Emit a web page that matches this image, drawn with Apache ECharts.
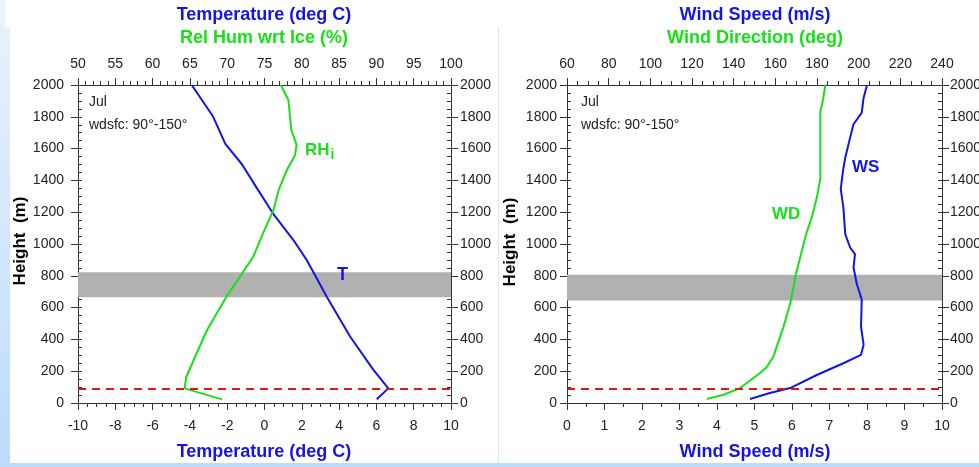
<!DOCTYPE html>
<html>
<head>
<meta charset="utf-8">
<script src="https://cdn.jsdelivr.net/npm/echarts@6/dist/echarts.min.js"></script>
<style>html,body{margin:0;padding:0;background:#fff;}#c{width:979px;height:467px;}</style>
</head>
<body>
<div id="c"></div>
<script>
// ---- data (heights in m) ----
const tempHeights = [2000, 1800, 1630, 1500, 1350, 1190, 1025, 900, 785, 670, 420, 210, 92, 23];
const tempValues  = [-3.9, -2.75, -2.1, -1.2, -0.4, 0.47, 1.55, 2.26, 2.8, 3.33, 4.58, 5.83, 6.64, 6.02];
const rhHeights = [2000, 1906, 1717, 1623, 1560, 1465, 1340, 1214, 1067, 920, 794, 668, 459, 291, 162, 92, 23];
const rhValues  = [77.2, 78.2, 78.6, 79.3, 79.1, 78.0, 76.9, 76.2, 74.8, 73.5, 71.7, 69.9, 67.3, 65.7, 64.5, 64.3, 69.3];
const wsHeights = [2000, 1920, 1826, 1753, 1669, 1543, 1460, 1345, 1229, 1062, 978, 936, 852, 747, 651, 481, 366, 303, 250, 176, 94, 63, 25];
const wsValues  = [8.0, 7.91, 7.86, 7.64, 7.55, 7.42, 7.36, 7.30, 7.37, 7.42, 7.55, 7.68, 7.64, 7.73, 7.86, 7.84, 7.91, 7.84, 7.37, 6.66, 5.95, 5.41, 4.88];
const wdHeights = [2000, 1906, 1832, 1486, 1413, 1298, 1172, 1067, 920, 796, 734, 629, 482, 293, 228, 189, 94, 52, 25];
const wdValues  = [184.0, 182.9, 181.6, 181.6, 181.6, 180.0, 177.6, 174.9, 172.0, 169.6, 168.8, 167.2, 164.0, 159.1, 156.0, 152.7, 143.1, 135.1, 127.1];
const leftBand = [665, 822];
const rightBand = [645, 807];
const mixHeight = 90;
const heightRange = [0, 2000, 200];
const tempRange = [-10, 10, 2];
const rhRange = [50, 100, 5];
const wsRange = [0, 10, 1];
const wdRange = [60, 240, 20];

const FONT = 'Liberation Sans, Arial, sans-serif';
const BLUE = '#1414e6';
const GREEN = '#18e018';
const AX = '#333';
const LBL = '#222';

function pairs(vals, hts) { return vals.map((v, i) => [v, hts[i]]); }
const plain = v => String(v);

function xAx(grid, pos, r, minorSplit, margin) {
  return {
    gridIndex: grid, type: 'value', position: pos, min: r[0], max: r[1], interval: r[2],
    axisLine: { show: true, onZero: false, lineStyle: { color: AX, width: 1 } },
    axisTick: { show: true, inside: false, length: 7, lineStyle: { color: AX } },
    minorTick: { show: true, splitNumber: minorSplit, length: 4, lineStyle: { color: AX } },
    axisLabel: { show: true, margin: margin, color: LBL, fontSize: 14, fontFamily: FONT, formatter: plain, hideOverlap: false },
    splitLine: { show: false }, minorSplitLine: { show: false }
  };
}
function yAx(grid, pos, margin) {
  return {
    gridIndex: grid, type: 'value', position: pos, min: heightRange[0], max: heightRange[1], interval: heightRange[2],
    axisLine: { show: true, onZero: false, lineStyle: { color: AX, width: 1 } },
    axisTick: { show: true, inside: false, length: 7, lineStyle: { color: AX } },
    minorTick: { show: false },
    axisLabel: { show: true, margin: margin, color: LBL, fontSize: 14, fontFamily: FONT, formatter: plain, hideOverlap: false },
    splitLine: { show: false }
  };
}
function yMinor(grid, pos) {
  return {
    gridIndex: grid, type: 'value', position: pos, min: heightRange[0], max: heightRange[1], interval: heightRange[2],
    axisLine: { show: false, onZero: false },
    axisTick: { show: true, inside: true, length: 4, lineStyle: { color: AX } },
    minorTick: { show: true, splitNumber: 4, length: 4, lineStyle: { color: AX } },
    axisLabel: { show: false },
    splitLine: { show: false }
  };
}

const lineBase = { type: 'line', showSymbol: false, symbol: 'none', smooth: false, z: 3, silent: true };

function bandSeries(xi, yi, band) {
  return {
    type: 'line', xAxisIndex: xi, yAxisIndex: yi, data: [], silent: true, z: 1,
    markArea: { silent: true, itemStyle: { color: '#b0b0b0', opacity: 1 }, data: [[{ yAxis: band[0] }, { yAxis: band[1] }]] },
    markLine: { silent: true, symbol: ['none', 'none'], label: { show: false }, z: 6,
      lineStyle: { color: '#ee1111', width: 2, type: [8, 6] }, data: [{ yAxis: mixHeight }] }
  };
}

function txt(x, y, text, color, font, align, rot) {
  return { type: 'text', x: x, y: y, rotation: rot || 0, z: 100, silent: true,
    style: { text: text, fill: color, font: font, align: align || 'center', verticalAlign: 'middle' } };
}

const chart = echarts.init(document.getElementById('c'), null, { renderer: 'canvas' });
const option = {
  animation: false,
  backgroundColor: '#ffffff',
  grid: [
    { left: 78, top: 85, width: 373, height: 318, containLabel: false, outerBoundsMode: 'none' },
    { left: 567, top: 85, width: 375, height: 318, containLabel: false, outerBoundsMode: 'none' }
  ],
  xAxis: [
    xAx(0, 'bottom', tempRange, 4, 16),
    xAx(0, 'top', rhRange, 5, 14),
    xAx(1, 'bottom', wsRange, 2, 16),
    xAx(1, 'top', wdRange, 4, 14)
  ],
  yAxis: [
    yAx(0, 'left', 14), yMinor(0, 'left'), yAx(0, 'right', 9), yMinor(0, 'right'),
    yAx(1, 'left', 10), yMinor(1, 'left'), yAx(1, 'right', 8), yMinor(1, 'right')
  ],
  series: [
    bandSeries(0, 0, leftBand),
    bandSeries(2, 4, rightBand),
    Object.assign({}, lineBase, { name: 'T', xAxisIndex: 0, yAxisIndex: 0, data: pairs(tempValues, tempHeights), lineStyle: { color: BLUE, width: 2 } }),
    Object.assign({}, lineBase, { name: 'RHi', xAxisIndex: 1, yAxisIndex: 0, data: pairs(rhValues, rhHeights), lineStyle: { color: GREEN, width: 2 } }),
    Object.assign({}, lineBase, { name: 'WS', xAxisIndex: 2, yAxisIndex: 4, data: pairs(wsValues, wsHeights), lineStyle: { color: BLUE, width: 2 } }),
    Object.assign({}, lineBase, { name: 'WD', xAxisIndex: 3, yAxisIndex: 4, data: pairs(wdValues, wdHeights), lineStyle: { color: GREEN, width: 2 } })
  ],
  graphic: [
    { type: 'rect', silent: true, z: -10, shape: { x: 0, y: 0, width: 5, height: 27 }, style: { fill: '#eaf2fd' } },
    { type: 'rect', silent: true, z: -10, shape: { x: 0, y: 27, width: 10, height: 440 },
      style: { fill: new echarts.graphic.LinearGradient(0, 0, 0, 1, [{ offset: 0, color: '#e8f1fd' }, { offset: 1, color: '#bcdcfa' }]) } },
    { type: 'rect', silent: true, z: -10, shape: { x: 0, y: 463, width: 979, height: 4 }, style: { fill: '#bcdcfa' } },
    { type: 'rect', silent: true, z: -10, shape: { x: 498, y: 27, width: 1, height: 436 }, style: { fill: '#d4e6fb' } },

    txt(264, 15, 'Temperature (deg C)', BLUE, 'bold 18px ' + FONT),
    txt(264, 38, 'Rel Hum wrt Ice (%)', GREEN, 'bold 18px ' + FONT),
    txt(264, 452, 'Temperature (deg C)', BLUE, 'bold 18px ' + FONT),
    txt(755, 15, 'Wind Speed (m/s)', BLUE, 'bold 18px ' + FONT),
    txt(755, 38, 'Wind Direction (deg)', GREEN, 'bold 18px ' + FONT),
    txt(755, 452, 'Wind Speed (m/s)', BLUE, 'bold 18px ' + FONT),
    txt(20, 241, 'Height  (m)', '#000', 'bold 17px ' + FONT, 'center', Math.PI / 2),
    txt(510, 242, 'Height  (m)', '#000', 'bold 17px ' + FONT, 'center', Math.PI / 2),

    txt(89, 102, 'Jul', '#222', '14px ' + FONT, 'left'),
    txt(89, 125, 'wdsfc: 90°-150°', '#222', '14px ' + FONT, 'left'),
    txt(581, 102, 'Jul', '#222', '14px ' + FONT, 'left'),
    txt(581, 125, 'wdsfc: 90°-150°', '#222', '14px ' + FONT, 'left'),

    { type: 'text', x: 305, y: 150, z: 100, silent: true,
      style: { text: '{a|RH}{b|i}', align: 'left', verticalAlign: 'middle',
        rich: { a: { fill: GREEN, font: 'bold 17px ' + FONT }, b: { fill: GREEN, font: 'bold 14px ' + FONT, padding: [10, 0, 0, 1] } } } },
    txt(337, 275, 'T', BLUE, 'bold 18px ' + FONT, 'left'),
    txt(852, 167, 'WS', BLUE, 'bold 17px ' + FONT, 'left'),
    txt(772, 214, 'WD', GREEN, 'bold 17px ' + FONT, 'left')
  ]
};
chart.setOption(option);
</script>
</body>
</html>
